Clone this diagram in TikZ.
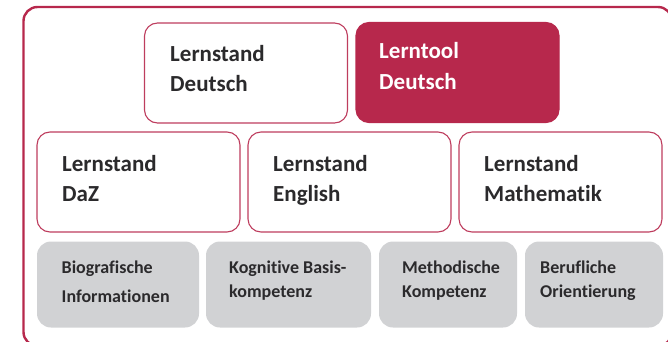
\documentclass[tikz,border=0pt]{standalone}
\usepackage{fontspec}
\setmainfont{Carlito}[Ligatures=NoCommon]
\definecolor{lsrot}{HTML}{B7284C}
\definecolor{lsgrau}{HTML}{D1D2D4}
\definecolor{lstext}{HTML}{2B2A2C}
\tikzset{
    rahmen/.style={draw=lsrot, line width=2.4pt, rounded corners=14pt},
    kasten/.style={draw=lsrot!90, line width=1.1pt, rounded corners=13pt, fill=white,
        minimum width=203pt, minimum height=100pt, inner sep=0pt},
    tool/.style={kasten, draw=lsrot, fill=lsrot},
    basis/.style={fill=lsgrau, rounded corners=14pt, minimum height=86pt, inner sep=0pt},
    titel/.style={font=\fontsize{23}{30}\selectfont\bfseries, text=lstext,
        align=left, anchor=base west, inner sep=0pt},
    klein/.style={font=\fontsize{18}{24}\selectfont\bfseries, text=lstext,
        align=left, anchor=base west, inner sep=0pt}
}

\begin{document}
\begin{tikzpicture}[x=1pt, y=-1pt]
        \clip (0,0) rectangle (668,342);
        % Rahmen
        \draw[rahmen] (23.5,7) rectangle (672,346);
        % Obere Reihe
        \node[kasten] (ls-deutsch) at (246,73) {};
        \node[tool] (lt-deutsch) at (457.5,72.5) {};
        \node[titel] (t-ls-deutsch) at (170,92) {Lernstand\\Deutsch};
        \node[titel, text=white] (t-lt-deutsch) at (379,89) {Lerntool\\Deutsch};
        % Mittlere Reihe
        \node[kasten] (ls-daz) at (138.5,182) {};
        \node[kasten] (ls-english) at (349.5,182) {};
        \node[kasten] (ls-mathe) at (560.5,182) {};
        \node[titel] (t-ls-daz) at (62,201.5) {Lernstand\\DaZ};
        \node[titel] (t-ls-english) at (273,201.5) {Lernstand\\English};
        \node[titel] (t-ls-mathe) at (484,201.5) {Lernstand\\Mathematik};
        % Untere Reihe
        \node[basis, minimum width=162pt] (bio) at (118,284.5) {};
        \node[basis, minimum width=165pt] (kog) at (288.5,284.5) {};
        \node[basis, minimum width=138pt] (meth) at (448,284.5) {};
        \node[basis, minimum width=138pt] (beruf) at (594,284.5) {};
        \node[klein, font=\fontsize{18}{29}\selectfont\bfseries] (t-bio) at (61.5,302) {Biografische\\Informationen};
        \node[klein] (t-kog) at (229,297) {Kognitive Basis-\\kompetenz};
        \node[klein] (t-meth) at (402,297) {Methodische\\Kompetenz};
        \node[klein] (t-beruf) at (540,297) {Berufliche\\Orientierung};
\end{tikzpicture}
\end{document}
